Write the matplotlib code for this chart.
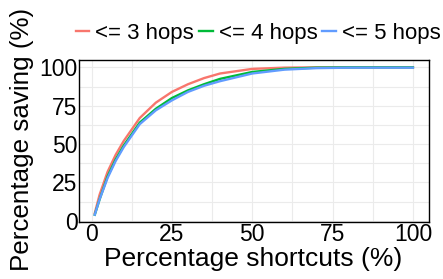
import matplotlib
matplotlib.use("Agg")
import matplotlib.pyplot as plt

plt.rcParams['font.family'] = ['Liberation Sans', 'DejaVu Sans']

shortcuts = [1, 2.5, 5, 7.5, 10, 15, 20, 25, 30, 35, 40, 50, 60, 70, 80, 90, 100]
saving_3 = [5, 17, 32, 43, 52, 67, 77, 84, 89, 93, 96, 99, 99.8, 100, 100, 100, 100]
saving_4 = [4, 14, 29, 40, 49, 64, 73, 80, 85, 89, 92.5, 97, 99, 99.8, 100, 100, 100]
saving_5 = [4, 14, 28, 39, 48, 63, 72, 78.5, 84, 88, 91, 96, 98.5, 99.5, 99.8, 99.8, 99.8]
labels = ['<= 3 hops', '<= 4 hops', '<= 5 hops']
colors = ['#F8766D', '#00BA38', '#619CFF']

fig = plt.figure(figsize=(4.43, 2.79), dpi=100)
ax = fig.add_axes([0.178, 0.204, 0.79, 0.581])

for y, lab, c in zip([saving_3, saving_4, saving_5], labels, colors):
    ax.plot(shortcuts, y, color=c, lw=1.7, label=lab)

ax.set_xlim(-3.95, 104.95)
ax.set_ylim(-0.8, 104.8)
ax.set_xticks([0, 25, 50, 75, 100])
ax.set_yticks([0, 25, 50, 75, 100])
ax.set_xticks([12.5, 37.5, 62.5, 87.5], minor=True)
ax.set_yticks([12.5, 37.5, 62.5, 87.5], minor=True)
ax.grid(True, which='both', color='#ebebeb', lw=0.8)
ax.set_axisbelow(True)
ax.tick_params(which='both', length=0, labelsize=16.5, pad=1, colors='black')
for s in ax.spines.values():
    s.set_color('black')
    s.set_linewidth(1.0)

fig.text(0.571, 0.07, 'Percentage shortcuts (%)', ha='center', va='center', fontsize=19)
fig.text(0.05, 0.5, 'Percentage saving (%)', ha='center', va='center', rotation=90, fontsize=18.7)

fig.legend(loc='center', bbox_to_anchor=(0.583, 0.88), ncol=3, frameon=False,
           fontsize=16, handlelength=0.62, handletextpad=0.27, columnspacing=0.22,
           borderaxespad=0)

fig.savefig('out.png', dpi=100)
